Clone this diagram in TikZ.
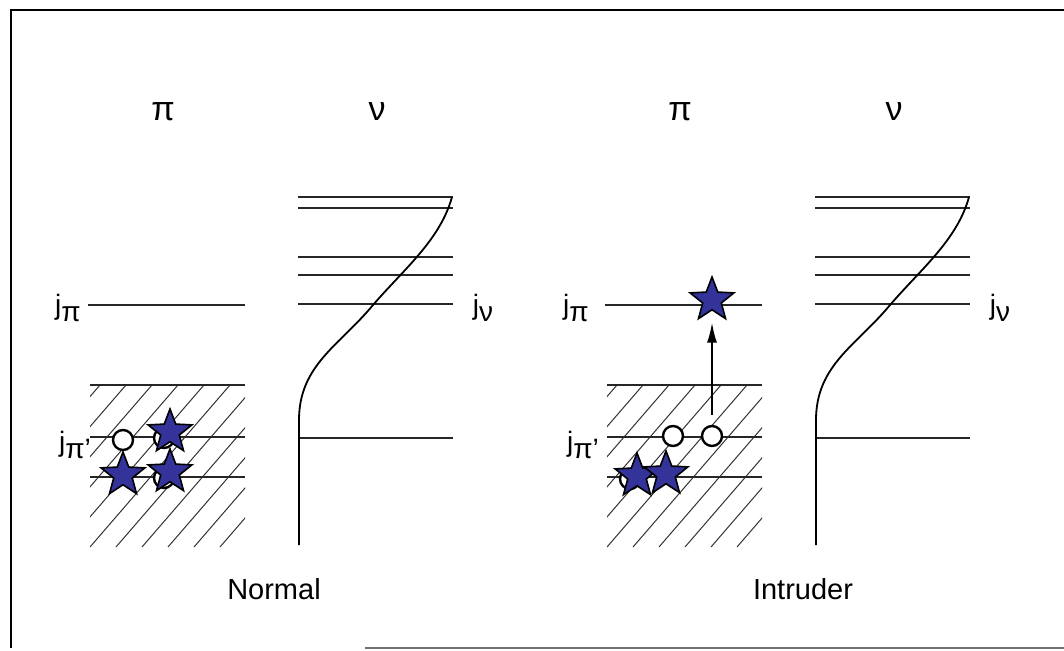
\documentclass[tikz,border=0pt]{standalone}
\usepackage{fontspec}
\setmainfont{Liberation Sans}
\usetikzlibrary{arrows.meta,shapes.geometric}
\definecolor{StarBlue}{RGB}{51,51,153}
\tikzset{
  levelline/.style={line width=1pt,draw=black!85},
  hatchline/.style={line width=0.5pt,draw=black!80},
  curveline/.style={line width=0.9pt,draw=black},
  occstar/.style={star,star points=5,star point ratio=2.35,draw=black,
    line width=0.8pt,fill=StarBlue,minimum size=23pt,inner sep=0pt},
  holecirc/.style={circle,draw=black,line width=1.2pt,fill=white,
    minimum size=10pt,inner sep=0pt},
  orbitlabel/.style={font=\fontsize{17}{20}\selectfont,inner sep=0pt},
  jlabel/.style={font=\fontsize{14}{16}\selectfont,inner sep=0pt},
  caption/.style={font=\fontsize{14.5}{17}\selectfont,inner sep=0pt},
  jumparrow/.style={-{Latex[length=10pt,width=5pt]},line width=0.8pt},
}
\begin{document}
\begin{tikzpicture}[x=0.5pt,y=-0.5pt]
  \useasboundingbox (0,0) rectangle (1064,651);
  % frame
  \draw[line width=1pt] (11,648) -- (11,10) -- (1064,10);
  \draw[line width=0.8pt,black!55] (365,648) -- (1064,648);

  % the two panels
  \foreach \dx/\jx/\tag/\name in {0/0/N/Normal,517/508/I/Intruder}{
    \node[orbitlabel] (pi\tag) at (163+\dx,112) {π};
    \node[orbitlabel] (nu\tag) at (377+\dx,112) {ν};
    % proton levels
    \begin{scope}
      \clip (90+\dx,385) rectangle (245+\dx,547);
      \foreach \h in {-5,...,6}
        \draw[hatchline] (90+\dx+\h*26,547) -- ++(140,-162);
    \end{scope}
    \draw[levelline] (90+\dx,385) -- (245+\dx,385);
    \draw[levelline] (90+\dx,437) -- (245+\dx,437);
    \draw[levelline] (90+\dx,477) -- (245+\dx,477);
    \draw[levelline] (88+\dx,305) -- (245+\dx,305);
    \node[jlabel] (jpi\tag) at (68+\jx,308) {j\raisebox{-0.5ex}{π}};
    \node[jlabel] (jpip\tag) at (75+\jx,445) {j\raisebox{-0.5ex}{π\textquoteright}};
    % neutron levels
    \foreach \y in {197,208,257,275,304}
      \draw[levelline] (298+\dx,\y) -- (453+\dx,\y);
    \draw[levelline] (299+\dx,438) -- (453+\dx,438);
    \draw[curveline] (299+\dx,545) -- (299+\dx,420)
      .. controls (299+\dx,365) and (340+\dx,345) .. (373+\dx,305)
      .. controls (405+\dx,268) and (440+\dx,240) .. (452+\dx,197);
    \node[jlabel] (jnu\tag) at (483+\dx,308) {j\raisebox{-0.5ex}{ν}};
    \node[caption] (cap\tag) at (274+\dx+12*\dx/517,589) {\name};
  }

  % normal configuration
  \node[holecirc] (h2N) at (164,438) {};
  \node[holecirc] (h3N) at (164,478) {};
  \node[holecirc] (h1N) at (123,440) {};
  \node[occstar] (s1N) at (123,475) {};
  \node[occstar] (s2N) at (170,432) {};
  \node[occstar] (s3N) at (170,472) {};

  % intruder configuration
  \node[holecirc] (h3I) at (630,479) {};
  \node[holecirc] (h1I) at (673,436) {};
  \node[holecirc] (h2I) at (712,436) {};
  \node[occstar] (s1I) at (637,476) {};
  \node[occstar] (s2I) at (666,474) {};
  \node[occstar] (jumpI) at (712,300) {};
  \draw[jumparrow,shorten <=5pt,shorten >=6pt] (h2I) -- (jumpI);
\end{tikzpicture}
\end{document}
